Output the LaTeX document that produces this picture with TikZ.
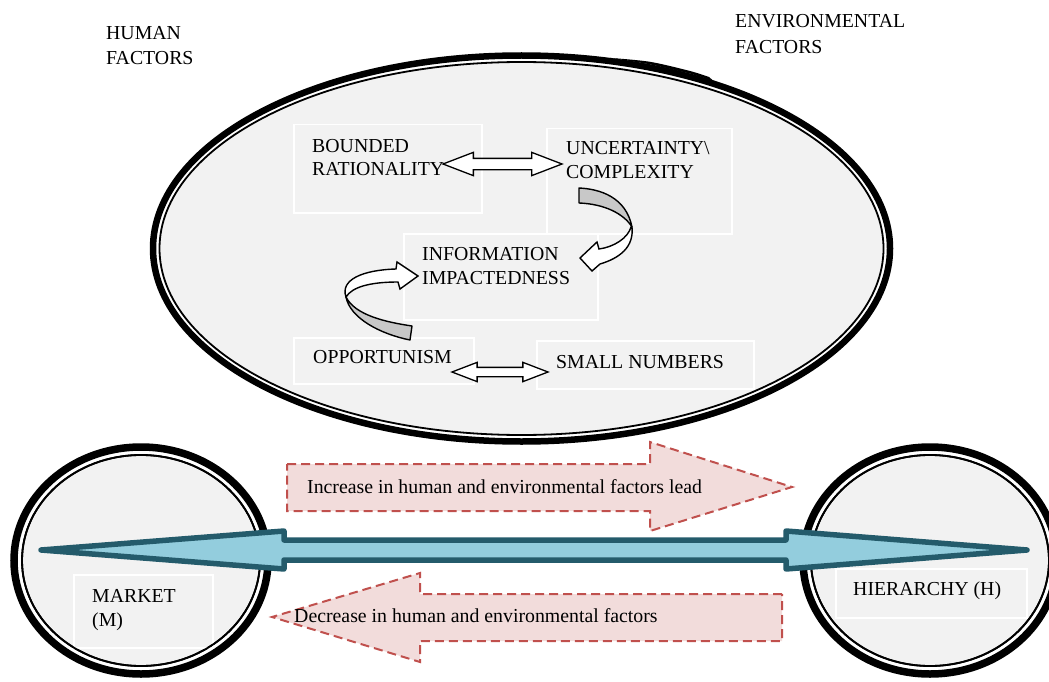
\documentclass[tikz,border=0pt]{standalone}
\usepackage{fontspec}
\setmainfont{Liberation Serif}
\usetikzlibrary{shapes.arrows}

\definecolor{panel}{HTML}{F2F2F2}
\definecolor{ribbon}{HTML}{C8C8C8}
\definecolor{tealdark}{HTML}{245B6B}
\definecolor{teallight}{HTML}{93CDDD}
\definecolor{rosefill}{HTML}{F2DCDB}
\definecolor{roseline}{HTML}{C0504D}

\tikzset{
  lbl/.style={inner sep=0pt, anchor=west, align=left, font=\fontsize{19.8}{23.5}\selectfont},
  factorbox/.style={draw=white, line width=1.5pt, inner sep=0pt, anchor=north west},
  thickring/.style={line width=6.5pt},
  roundring/.style={line width=7.5pt},
  thinring/.style={line width=1.8pt, fill=panel},
  thinedge/.style={line width=1.8pt},
  linkarrow/.style={double arrow, draw=black, fill=white, line width=1.3pt,
    double arrow tip angle=42, double arrow head extend=6pt, inner sep=5pt,
    minimum width=0pt},
  curlback/.style={draw=black, fill=ribbon, line width=1.4pt, line join=round},
  curlfront/.style={draw=black, fill=white, line width=1.4pt, line join=miter},
  trendarrow/.style={draw=roseline, fill=rosefill, line width=2pt, dash pattern=on 9pt off 5pt},
  scalearrow/.style={draw=tealdark, fill=teallight, line width=5.5pt, line join=round}
}

\begin{document}
\begin{tikzpicture}[x=1pt, y=-1pt]
\useasboundingbox (0,0) rectangle (1049,682);

% ---- headings ----
\node[lbl] (human) at (106,45.5) {HUMAN\\[2pt]FACTORS};
\node[lbl] (env) at (735,34) {ENVIRONMENTAL\\[2pt]FACTORS};

% ---- main ellipse (double outline) ----
\draw[thickring] (521.5,248.5) ellipse (368.5 and 193);
\draw[thinring] (521.5,248.5) ellipse (362 and 186.5);
% small kink in the outer rim, upper right
\fill plot[smooth] coordinates {(610,57.9) (650,61.8) (690,71) (709,77)}
  -- (713,80.5)
  -- plot[smooth] coordinates {(690,73.6) (650,64.4) (610,57.9)}
  -- cycle;

% ---- factor boxes ----
\node[factorbox, minimum width=188, minimum height=88] (brbox) at (293,124) {};
\node[factorbox, minimum width=185, minimum height=105] (ucbox) at (546,128) {};
\node[factorbox, minimum width=194, minimum height=86] (imbox) at (403,233) {};
\node[factorbox, minimum width=180, minimum height=46] (opbox) at (293,337) {};
\node[factorbox, minimum width=217, minimum height=48] (snbox) at (536,340) {};

\node[lbl] (br) at (312,157.5) {BOUNDED\\RATIONALITY};
\node[lbl] (uc) at (566,160) {UNCERTAINTY\textbackslash\\COMPLEXITY};
\node[lbl] (im) at (422,266) {INFORMATION\\IMPACTEDNESS};
\node[lbl] (op) at (313,357) {OPPORTUNISM};
\node[lbl] (sn) at (556,362) {SMALL NUMBERS};

% ---- two-way links ----
\node[linkarrow, minimum height=119] (brlink) at (502.5,164) {};
\node[linkarrow, minimum height=96, inner sep=4pt, double arrow head extend=5pt] (oplink) at (500,372) {};

% ---- curled arrow: uncertainty -> impactedness ----
\draw[curlback] (579,188) .. controls (600,189) and (626,197) .. (632,227)
  .. controls (624,214) and (605,204) .. (579,203) -- cycle;
\draw[curlfront] (631,227) .. controls (628,238) and (614,247) .. (599,249)
  -- (597,242) -- (580,258) -- (592,271) -- (600,264)
  .. controls (620,258) and (634,247) .. (632,227) -- cycle;

% ---- curled arrow: opportunism -> impactedness ----
\draw[curlback] (412,326) .. controls (385,322) and (355,315) .. (346,297)
  .. controls (350,318) and (380,334) .. (410,340) -- cycle;
\draw[curlfront] (346,297) .. controls (340,280) and (362,270) .. (396,269)
  -- (397,262) -- (418,276) -- (400,289) -- (398,282)
  .. controls (370,282) and (352,287) .. (346,297) -- cycle;

% ---- market and hierarchy ----
\draw[roundring] (141,560.5) ellipse (127 and 113.5);
\draw[thinring] (141,560.5) ellipse (119 and 105.5);
\draw[roundring] (930,560.5) ellipse (127 and 113.5);
\draw[thinring] (930,560.5) ellipse (119 and 105.5);

\node[factorbox, minimum width=139, minimum height=73] (mbox) at (73,574) {};
\node[factorbox, minimum width=191, minimum height=49] (hbox) at (835,568) {};
\draw[thinedge] (141,560.5) ellipse (119 and 105.5);
\draw[thinedge] (930,560.5) ellipse (119 and 105.5);
\node[lbl] (market) at (92,610) {MARKET\\(M)};
\node[lbl] (hier) at (853,591) {HIERARCHY (H)};

% ---- market-hierarchy scale ----
\draw[scalearrow] (41,550) -- (284,531) -- (284,540) -- (786,540) -- (786,531)
  -- (1027,550) -- (786,569) -- (786,560) -- (284,560) -- (284,569) -- cycle;

% ---- trend arrows ----
\draw[trendarrow] (287,464) -- (650,464) -- (650,442) -- (792,487) -- (650,531)
  -- (650,511) -- (287,511) -- cycle;
\node[lbl] (inc) at (307,487) {Increase in human and environmental factors lead};

\draw[trendarrow] (782,594) -- (420,594) -- (420,573) -- (272,617) -- (420,662)
  -- (420,641) -- (782,641) -- cycle;
\node[lbl] (dec) at (294,616) {Decrease in human and environmental factors};

\end{tikzpicture}
\end{document}
